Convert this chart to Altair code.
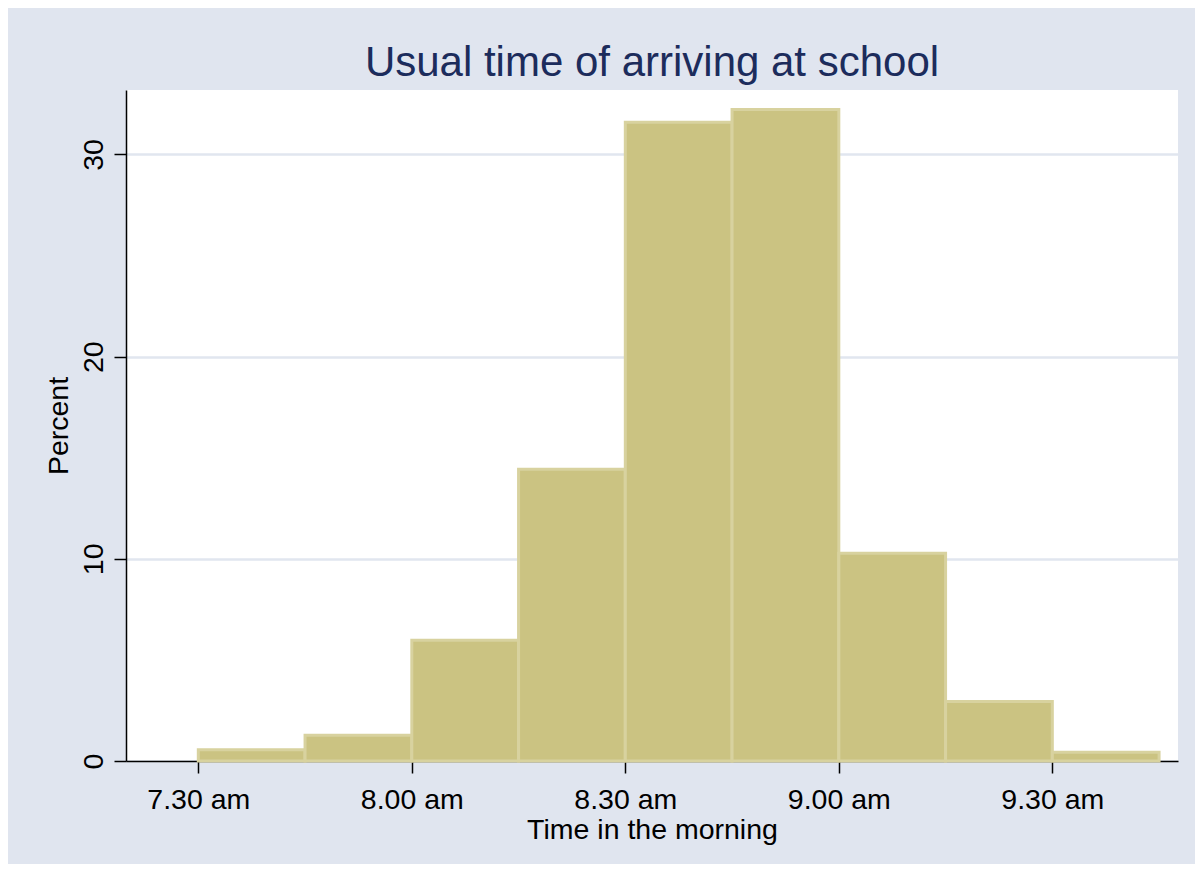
import altair as alt
import pandas as pd

# Bin starts, in minutes after 7:00 (15-minute bins from 7.30 am)
bin_start = [30, 45, 60, 75, 90, 105, 120, 135, 150]
bin_width = 15
percent = [0.56, 1.27, 5.97, 14.43, 31.59, 32.23, 10.28, 2.94, 0.43]

tick_minutes = [30, 60, 90, 120, 150]
tick_labels = ["7.30 am", "8.00 am", "8.30 am", "9.00 am", "9.30 am"]

df = pd.DataFrame({
    "start": bin_start,
    "end": [s + bin_width for s in bin_start],
    "pct": percent,
})

label_expr = "[" + ",".join(f"'{t}'" for t in tick_labels) + "][indexof([" + \
    ",".join(str(m) for m in tick_minutes) + "], datum.value)]"

FONT = "Liberation Sans"

bars = alt.Chart(df).mark_rect(
    fill="#cbc382", stroke="#d8d29f", strokeWidth=3
).encode(
    x=alt.X("start:Q",
            scale=alt.Scale(domain=[19.84, 167.66], nice=False, zero=False),
            axis=alt.Axis(values=tick_minutes, labelExpr=label_expr,
                          title="Time in the morning", grid=False,
                          titleY=77, titleBaseline="alphabetic")),
    x2="end:Q",
    y=alt.Y("pct:Q",
            scale=alt.Scale(domain=[0, 33.19], nice=False),
            axis=alt.Axis(values=[0, 10, 20, 30], title="Percent",
                          grid=True, labelAngle=270, labelAlign="center",
                          labelBaseline="alphabetic", labelPadding=12,
                          titleAngle=270, titleBaseline="alphabetic",
                          titleX=-59, titleAlign="center")),
    y2=alt.datum(0),
)

chart = bars.properties(
    width=1052,
    height=671,
    title=alt.TitleParams("Usual time of arriving at school", fontSize=42,
                          color="#1c2c5c", font=FONT, fontWeight="normal",
                          anchor="middle", baseline="alphabetic", offset=15,
                          dy=43),
    autosize=alt.AutoSizeParams(type="none"),
    padding={"left": 118, "top": 82, "right": 17, "bottom": 103},
    background="#e0e5ef",
).configure_view(
    fill="white", stroke=None
).configure_axis(
    labelFont=FONT, titleFont=FONT, labelFontSize=28.5, titleFontSize=28.5,
    labelColor="black", titleColor="black", titleFontWeight="normal",
    domainColor="black", domainWidth=1.5, tickColor="black", tickWidth=1.5,
    tickSize=12, labelPadding=12, gridColor="#e1e6ef", gridWidth=2.5,
)

chart.save("out.html", embed_options={"renderer": "svg", "actions": False})
